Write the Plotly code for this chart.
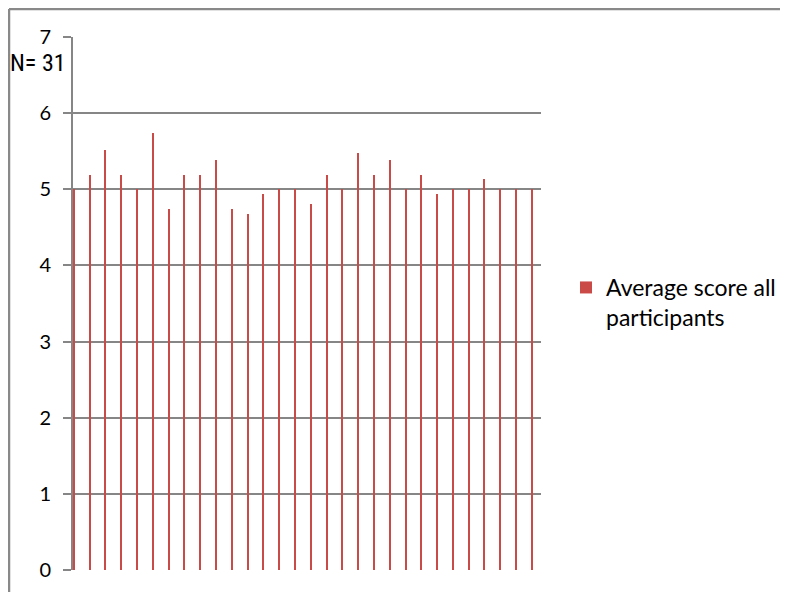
import plotly.graph_objects as go

items = list(range(1, 31))
avg_scores = [5.00, 5.19, 5.52, 5.19, 5.00, 5.74, 4.74, 5.19, 5.19, 5.39,
              4.74, 4.68, 4.94, 5.00, 5.00, 4.81, 5.19, 5.00, 5.48, 5.19,
              5.39, 5.00, 5.19, 4.94, 5.00, 5.00, 5.13, 5.00, 5.00, 5.00]
series_name = "Average score all<br>participants"
y_ticks = [0, 1, 2, 3, 4, 5, 6, 7]

OFF = 8  # page body margin
W, H = 788, 592 - OFF
L, R, T, B = 73 - OFF, 541 - OFF, 37 - OFF, 570 - OFF
pw, ph = R - L, B - T

def px_x(p):
    return (p - OFF - L) / pw

def px_y(p):
    return (B - (p - OFF)) / ph

grid = "#868686"
fig = go.Figure()
fig.add_trace(go.Bar(
    x=[i - 1 for i in items], y=avg_scores, name=series_name,
    width=0.08, marker=dict(color="#C94A47", line=dict(width=0)),
    showlegend=True,
))

fig.update_layout(
    width=W, height=H,
    margin=dict(l=L, r=W - R, t=T, b=H - B, pad=0),
    paper_bgcolor="white", plot_bgcolor="white",
    font=dict(family="Lato, Open Sans, sans-serif", size=17, color="#000000"),
    showlegend=True,
    legend=dict(x=px_x(566), xanchor="left", y=px_y(266), yanchor="top",
                valign="top",
                font=dict(size=23, color="#000"), bgcolor="rgba(0,0,0,0)",
                itemwidth=30, tracegroupgap=0),
    xaxis=dict(range=[-0.06, 29.57], showticklabels=False, showgrid=False,
               zeroline=False, showline=False, ticks=""),
    yaxis=dict(range=[0, 7], tickvals=y_ticks, showgrid=True, gridcolor=grid,
               gridwidth=2, zeroline=False, showline=True, linecolor=grid,
               linewidth=2, ticks="outside", ticklen=8, tickcolor=grid,
               tickwidth=2, ticklabelstandoff=8,
               tickfont=dict(size=20)),
    bargap=0,
)

# outer chart frame (top and left edges; right/bottom fall outside the window)
fig.add_shape(type="line", xref="paper", yref="paper",
              x0=px_x(9), x1=px_x(W + OFF), y0=px_y(9), y1=px_y(9),
              line=dict(color="#898989", width=2.5))
fig.add_shape(type="line", xref="paper", yref="paper",
              x0=px_x(9), x1=px_x(9), y0=px_y(9), y1=px_y(H + OFF),
              line=dict(color="#898989", width=2.5))

fig.add_annotation(text="N= 31", xref="paper", yref="paper",
                   x=px_x(8), y=px_y(63), xanchor="left", yanchor="middle",
                   showarrow=False,
                   font=dict(family="Liberation Sans Narrow, Roboto Condensed, Liberation Sans, sans-serif",
                             size=24, color="#000"))

fig.write_html("out.html", config={"displayModeBar": False})
